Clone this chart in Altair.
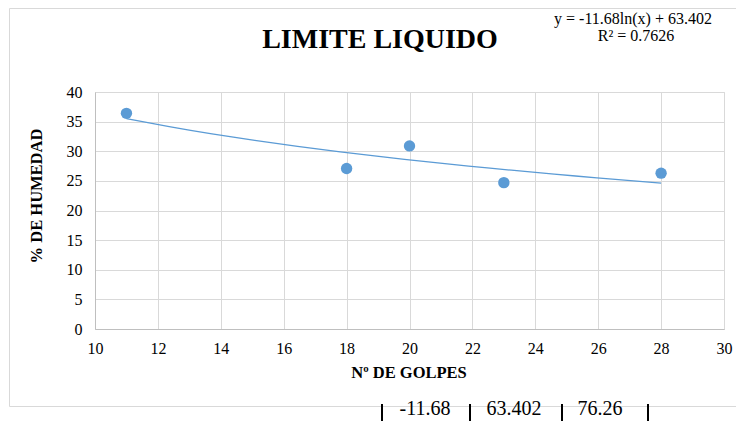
import altair as alt
import pandas as pd

# Data
golpes = [11, 18, 20, 23, 28]
humedad = [36.4, 27.1, 30.9, 24.7, 26.3]
x_ticks = [10, 12, 14, 16, 18, 20, 22, 24, 26, 28, 30]
y_ticks = [0, 5, 10, 15, 20, 25, 30, 35, 40]
table_values = ["-11.68", "63.402", "76.26"]

title_text = "LIMITE LIQUIDO"
eq_text = "y = -11.68ln(x) + 63.402"
r2_text = "R² = 0.7626"
x_title = "Nº DE GOLPES"
y_title = "% DE HUMEDAD"

SERIF = "Liberation Serif, Times New Roman, DejaVu Serif, serif"
BLUE = "#5b9bd5"
GRID = "#d9d9d9"

df = pd.DataFrame({"x": golpes, "y": humedad})

xs = alt.Scale(domain=[10, 30], nice=False, zero=False)
ys = alt.Scale(domain=[0, 40], nice=False)

x_axis = alt.Axis(values=x_ticks, title=None, grid=True, gridColor=GRID,
                  domainColor="#bfbfbf", ticks=False, labelPadding=11,
                  labelFlush=False, labelOverlap=False,
                  labelFont=SERIF, labelFontSize=16, labelColor="#000")
y_axis = alt.Axis(values=y_ticks, title=None, grid=True, gridColor=GRID,
                  domainColor="#bfbfbf", ticks=False, labelPadding=13,
                  labelFlush=False, labelOverlap=False,
                  labelFont=SERIF, labelFontSize=16, labelColor="#000")

base = alt.Chart(df)

points = base.mark_circle(size=130, opacity=1, color=BLUE).encode(
    x=alt.X("x:Q", scale=xs, axis=x_axis),
    y=alt.Y("y:Q", scale=ys, axis=y_axis),
)

trend = base.transform_regression("x", "y", method="log", extent=[11, 28]).mark_line(
    color=BLUE, strokeWidth=1.3
).encode(x=alt.X("x:Q", scale=xs, axis=x_axis), y=alt.Y("y:Q", scale=ys, axis=y_axis))

def txt(s, x, y, size, bold=False, angle=0, align="center"):
    kw = dict(text=s, font=SERIF, fontSize=size, color="#000", align=align,
              baseline="alphabetic")
    if bold:
        kw["fontWeight"] = "bold"
    if angle:
        kw["angle"] = angle
        kw["baseline"] = "middle"
    return alt.Chart(pd.DataFrame({"a": [0]})).mark_text(**kw).encode(
        x=alt.value(x), y=alt.value(y))

frame = alt.Chart(pd.DataFrame({"a": [0]})).mark_rect(
    fill=None, stroke=GRID, strokeWidth=1).encode(
    x=alt.value(-85.5), x2=alt.value(660), y=alt.value(-83.5), y2=alt.value(314.5))

layers = [frame, trend, points,
          txt(title_text, 285, -44, 28, bold=True),
          txt(eq_text, 538, -68, 16),
          txt(r2_text, 541, -51, 16),
          txt(x_title, 314, 286, 16.5, bold=True),
          txt(y_title, -58, 104, 16.5, bold=True, angle=270)]

# table below the chart
line_x = [287, 375, 467, 553]
for lx in line_x:
    layers.append(alt.Chart(pd.DataFrame({"a": [0]})).mark_rule(
        color="#000", strokeWidth=2).encode(
        x=alt.value(lx), y=alt.value(312), y2=alt.value(345)))
text_x = [330, 419, 505]
for v, tx in zip(table_values, text_x):
    layers.append(txt(v, tx, 323, 20))

chart = alt.layer(*layers).properties(
    width=629, height=237,
    padding={"left": 87, "top": 84, "right": 12, "bottom": 92},
    autosize=alt.AutoSizeParams(type="none"),
).configure_view(stroke=GRID).configure(background="white")

chart.save("out.html", embed_options={"renderer": "svg", "actions": False})
